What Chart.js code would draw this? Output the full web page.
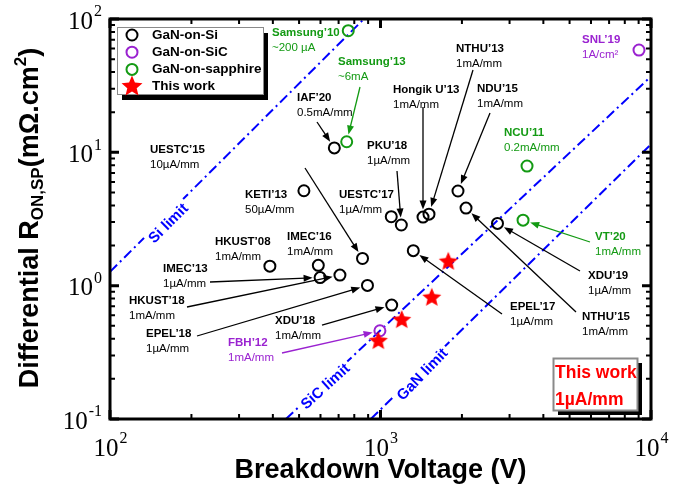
<!DOCTYPE html>
<html>
<head>
<meta charset="utf-8">
<script src="https://cdn.jsdelivr.net/npm/chart.js@4.4.0/dist/chart.umd.min.js"></script>
<style>
  html, body { margin: 0; padding: 0; background: #fff; }
  #wrap { width: 686px; height: 488px; }
</style>
</head>
<body>
<div id="wrap"><canvas id="chart" width="686" height="488"></canvas></div>
<script>
// Breakdown voltage (V) vs differential Ron,sp (mOhm.cm2)
const siNames   = ['IAF’20', 'KETI’13', 'UESTC’15', 'HKUST’08', 'IMEC’16', 'IMEC’13', 'HKUST’18', 'EPEL’18', 'XDU’18',
                   'UESTC’17', 'PKU’18', 'Hongik U’13', 'NTHU’13', 'NDU’15', 'NTHU’15', 'XDU’19', 'EPEL’17'];
const siVoltage = [675, 521, 858, 390, 589, 598, 708, 895, 1100, 1096, 1194, 1436, 1511, 1934, 2071, 2707, 1322];
const siRon     = [10.8, 5.15, 1.60, 1.40, 1.42, 1.15, 1.20, 1.005, 0.715, 3.29, 2.85, 3.27, 3.44, 5.13, 3.82, 2.93, 1.83];

const sicNames   = ['FBH’12', 'SNL’19'];
const sicVoltage = [995, 9029];
const sicRon     = [0.459, 58.5];

const sapNames   = ['Samsung’10', 'Samsung’13', 'NCU’11', 'VT’20'];
const sapVoltage = [760, 750, 3481, 3365];
const sapRon     = [81.7, 12.0, 7.89, 3.10];

const workVoltage = [982, 1198, 1547, 1781];
const workRon     = [0.384, 0.552, 0.811, 1.51];

// material limits (two end points each)
const siLimitV  = [100, 868];    const siLimitR  = [1.27, 100];
const sicLimitV = [447, 10000];  const sicLimitR = [0.1, 37.1];
const ganLimitV = [921, 10000];  const ganLimitR = [0.1, 11.5];

const xTicks = [100, 1000, 10000];   const xTickExp = ['2', '3', '4'];
const yTicks = [0.1, 1, 10, 100];    const yTickExp = ['-1', '0', '1', '2'];

const GREEN = '#139a13';
const PURPLE = '#9a22d0';
const BLUE = '#0000ff';
const RED = '#ff0000';
const SANS = '"Liberation Sans", Arial, sans-serif';
const SERIF = '"Liberation Serif", "Times New Roman", serif';

// labels + arrows (text position in px, arrow points at a named data point)
const notes = [
    { lines: ['Samsung’10', '~200 µA'], x: 272, y: 33, color: GREEN },
    { lines: ['Samsung’13', '~6mA'], x: 338, y: 62, color: GREEN, from: [360, 87], to: 'Samsung’13' },
    { lines: ['IAF’20', '0.5mA/mm'], x: 297, y: 98, from: [317, 122], to: 'IAF’20' },
    { lines: ['UESTC’15', '10µA/mm'], x: 150, y: 150, from: [305, 168], to: 'UESTC’15' },
    { lines: ['KETI’13', '50µA/mm'], x: 245, y: 195 },
    { lines: ['HKUST’08', '1mA/mm'], x: 215, y: 242 },
    { lines: ['IMEC’16', '1mA/mm'], x: 287, y: 237 },
    { lines: ['IMEC’13', '1µA/mm'], x: 163, y: 269, from: [210, 282], to: 'IMEC’13' },
    { lines: ['HKUST’18', '1mA/mm'], x: 129, y: 301, from: [187, 307], to: 'HKUST’18' },
    { lines: ['EPEL’18', '1µA/mm'], x: 146, y: 334, from: [197, 336], to: 'EPEL’18' },
    { lines: ['XDU’18', '1mA/mm'], x: 275, y: 321, from: [322, 325], to: 'XDU’18' },
    { lines: ['FBH’12', '1mA/mm'], x: 228, y: 343, color: PURPLE, from: [282, 353], to: 'FBH’12' },
    { lines: ['PKU’18', '1µA/mm'], x: 367, y: 146, from: [397, 171], to: 'PKU’18' },
    { lines: ['UESTC’17', '1µA/mm'], x: 339, y: 195 },
    { lines: ['Hongik U’13', '1mA/mm'], x: 393, y: 90, from: [423, 107], to: 'Hongik U’13' },
    { lines: ['NTHU’13', '1mA/mm'], x: 456, y: 49, from: [473, 70], to: 'NTHU’13' },
    { lines: ['NDU’15', '1mA/mm'], x: 477, y: 89, from: [490, 113], to: 'NDU’15' },
    { lines: ['NCU’11', '0.2mA/mm'], x: 504, y: 133, color: GREEN },
    { lines: ['SNL’19', '1A/cm²'], x: 582, y: 40, color: PURPLE },
    { lines: ['VT’20', '1mA/mm'], x: 595, y: 237, color: GREEN, from: [590, 242], to: 'VT’20' },
    { lines: ['XDU’19', '1µA/mm'], x: 588, y: 276, from: [580, 271], to: 'XDU’19' },
    { lines: ['NTHU’15', '1mA/mm'], x: 582, y: 317, from: [576, 312], to: 'NTHU’15' },
    { lines: ['EPEL’17', '1µA/mm'], x: 510, y: 307, from: [502, 314], to: 'EPEL’17' }
];

const limitNotes = [
    { text: 'Si limit', x: 168, y: 223, angle: -45 },
    { text: 'SiC limit', x: 325, y: 386, angle: -42 },
    { text: 'GaN limit', x: 422, y: 374, angle: -46 }
];

const pts = (xs, ys) => xs.map((v, i) => ({ x: v, y: ys[i] }));

function makeStar(r, color) {
    const size = Math.ceil(r * 2 + 2);
    const c = document.createElement('canvas');
    c.width = size; c.height = size;
    drawStar(c.getContext('2d'), size / 2, size / 2, r, color);
    return c;
}

function drawStar(g, cx, cy, r, color) {
    g.fillStyle = color;
    g.beginPath();
    for (let k = 0; k < 10; k++) {
        const rad = k % 2 === 0 ? r : r * 0.45;
        const a = -Math.PI / 2 + k * Math.PI / 5;
        const px = cx + rad * Math.cos(a), py = cy + rad * Math.sin(a);
        if (k === 0) g.moveTo(px, py); else g.lineTo(px, py);
    }
    g.closePath();
    g.fill();
}

function arrow(ctx, x1, y1, x2, y2, color) {
    const ang = Math.atan2(y2 - y1, x2 - x1);
    const L = 9, W = 3.5;
    const c = Math.cos(ang), s = Math.sin(ang);
    ctx.strokeStyle = color; ctx.fillStyle = color; ctx.lineWidth = 1.3;
    ctx.beginPath();
    ctx.moveTo(x1, y1);
    ctx.lineTo(x2 - L * 0.8 * c, y2 - L * 0.8 * s);
    ctx.stroke();
    ctx.beginPath();
    ctx.moveTo(x2, y2);
    ctx.lineTo(x2 - L * c + W * s, y2 - L * s - W * c);
    ctx.lineTo(x2 - L * c - W * s, y2 - L * s + W * c);
    ctx.closePath();
    ctx.fill();
}

// name -> data point, for the arrows
const named = {};
[[siNames, siVoltage, siRon], [sicNames, sicVoltage, sicRon], [sapNames, sapVoltage, sapRon]].forEach(([n, v, r]) => {
    n.forEach((name, i) => { named[name] = { x: v[i], y: r[i] }; });
});

const starImg = makeStar(10, RED);

const decorations = {
    id: 'decorations',
    afterDatasetsDraw(chart) {
        const { ctx, chartArea: a, scales: { x, y } } = chart;
        ctx.save();

        // limit line names, on a white patch that breaks the dashed line
        ctx.font = 'bold 15px ' + SANS;
        ctx.textAlign = 'center';
        ctx.textBaseline = 'middle';
        limitNotes.forEach(n => {
            ctx.save();
            ctx.translate(n.x, n.y);
            ctx.rotate(n.angle * Math.PI / 180);
            const w = ctx.measureText(n.text).width;
            ctx.fillStyle = '#fff';
            ctx.fillRect(-w / 2 - 3, -8, w + 6, 16);
            ctx.fillStyle = BLUE;
            ctx.fillText(n.text, 0, 1);
            ctx.restore();
        });

        // frame + inward ticks on all four sides
        ctx.strokeStyle = '#000';
        const xMinor = [], yMinor = [];
        xTicks.slice(0, -1).forEach(d => { for (let k = 2; k <= 9; k++) xMinor.push(d * k); });
        yTicks.slice(0, -1).forEach(d => { for (let k = 2; k <= 9; k++) yMinor.push(d * k); });
        const tickX = (v, len, w) => {
            const px = x.getPixelForValue(v);
            ctx.lineWidth = w;
            ctx.beginPath();
            ctx.moveTo(px, a.bottom); ctx.lineTo(px, a.bottom - len);
            ctx.moveTo(px, a.top); ctx.lineTo(px, a.top + len);
            ctx.stroke();
        };
        const tickY = (v, len, w) => {
            const py = y.getPixelForValue(v);
            ctx.lineWidth = w;
            ctx.beginPath();
            ctx.moveTo(a.left, py); ctx.lineTo(a.left + len, py);
            ctx.moveTo(a.right, py); ctx.lineTo(a.right - len, py);
            ctx.stroke();
        };
        xMinor.forEach(v => tickX(v, 5, 2));
        yMinor.forEach(v => tickY(v, 5, 2));
        xTicks.forEach(v => tickX(v, 9, 3));
        yTicks.forEach(v => tickY(v, 9, 3));
        ctx.lineWidth = 3;
        ctx.strokeRect(a.left, a.top, a.right - a.left, a.bottom - a.top);

        // tick labels 10^n
        ctx.fillStyle = '#000';
        ctx.textBaseline = 'middle';
        ctx.textAlign = 'left';
        const power = (px, py, exp, align) => {
            ctx.font = '25px ' + SERIF;
            const wb = ctx.measureText('10').width;
            ctx.font = '16px ' + SERIF;
            const we = ctx.measureText(exp).width;
            const x0 = align === 'center' ? px - (wb + we) / 2 : px - wb - we;
            ctx.font = '25px ' + SERIF;
            ctx.fillText('10', x0, py);
            ctx.font = '16px ' + SERIF;
            ctx.fillText(exp, x0 + wb + 1, py - 10);
        };
        xTicks.forEach((v, i) => power(x.getPixelForValue(v), 449, xTickExp[i], 'center'));
        yTicks.forEach((v, i) => power(101, y.getPixelForValue(v) + 3, yTickExp[i], 'right'));

        // axis titles
        ctx.font = 'bold 27px ' + SANS;
        ctx.textAlign = 'center';
        ctx.fillText('Breakdown Voltage (V)', (a.left + a.right) / 2, 471);

        const parts = [
            { t: 'Differential R', f: 27, dy: 0 },
            { t: 'ON,SP', f: 17, dy: 7 },
            { t: '(mΩ.cm', f: 27, dy: 0 },
            { t: '2', f: 17, dy: -10 },
            { t: ')', f: 27, dy: 0 }
        ];
        let total = 0;
        parts.forEach(p => { ctx.font = 'bold ' + p.f + 'px ' + SANS; p.w = ctx.measureText(p.t).width; total += p.w; });
        ctx.save();
        ctx.translate(31, 218);
        ctx.rotate(-Math.PI / 2);
        ctx.textAlign = 'left';
        let cx = -total / 2;
        parts.forEach(p => {
            ctx.font = 'bold ' + p.f + 'px ' + SANS;
            ctx.fillText(p.t, cx, p.dy);
            cx += p.w;
        });
        ctx.restore();

        // point labels and arrows
        ctx.textAlign = 'left';
        notes.forEach(n => {
            const col = n.color || '#000';
            ctx.fillStyle = col;
            ctx.font = 'bold 11.5px ' + SANS;
            ctx.fillText(n.lines[0], n.x, n.y);
            ctx.font = '11.5px ' + SANS;
            ctx.fillText(n.lines[1], n.x, n.y + 15);
            if (n.to) {
                const p = named[n.to];
                const tx = x.getPixelForValue(p.x), ty = y.getPixelForValue(p.y);
                const [fx, fy] = n.from;
                const d = Math.hypot(tx - fx, ty - fy);
                const gap = 7.5;
                arrow(ctx, fx, fy, tx - (tx - fx) / d * gap, ty - (ty - fy) / d * gap, col);
            }
        });

        // legend box
        const lx = 117, ly = 27, lw = 146, lh = 67;
        ctx.fillStyle = '#000';
        ctx.fillRect(lx + 5, ly + 6, lw, lh);
        ctx.fillStyle = '#fff';
        ctx.fillRect(lx, ly, lw, lh);
        ctx.strokeStyle = '#8a8a8a';
        ctx.lineWidth = 1;
        ctx.strokeRect(lx + 0.5, ly + 0.5, lw, lh);
        const entries = chart.data.datasets.filter(ds => ds.inLegend);
        entries.forEach((ds, i) => {
            const ry = ly + 8 + i * 17.2;
            const mx = lx + 15;
            if (ds.pointStyle === starImg) {
                drawStar(ctx, mx, ry, 11, RED);
            } else {
                ctx.strokeStyle = ds.borderColor;
                ctx.lineWidth = 2;
                ctx.beginPath();
                ctx.arc(mx, ry, 5.5, 0, Math.PI * 2);
                ctx.stroke();
            }
            ctx.fillStyle = '#000';
            ctx.font = 'bold 13.5px ' + SANS;
            ctx.fillText(ds.label, lx + 35, ry);
        });

        // "This work" box
        const bx = 553, by = 358, bw = 84, bh = 52;
        ctx.fillStyle = '#000';
        ctx.fillRect(bx + 5, by + 5, bw, bh);
        ctx.fillStyle = '#fff';
        ctx.fillRect(bx, by, bw, bh);
        ctx.strokeStyle = '#8a8a8a';
        ctx.strokeRect(bx + 0.5, by + 0.5, bw, bh);
        ctx.fillStyle = RED;
        ctx.font = 'bold 17.5px ' + SANS;
        ctx.fillText('This work', bx + 2, by + 15);
        ctx.fillText('1µA/mm', bx + 2, by + 42);

        ctx.restore();
    }
};

const circle = (label, data, color) => ({
    label, data, inLegend: true,
    pointStyle: 'circle', pointRadius: 5.5, pointBorderWidth: 2,
    borderColor: color, pointBorderColor: color, backgroundColor: 'rgba(0,0,0,0)',
    order: 1
});
const limit = (label, v, r) => ({
    label, data: pts(v, r), showLine: true,
    borderColor: BLUE, borderWidth: 2, borderDash: [10, 4, 2, 4],
    pointRadius: 0, fill: false, order: 5
});

new Chart(document.getElementById('chart'), {
    type: 'scatter',
    data: {
        datasets: [
            circle('GaN-on-Si', pts(siVoltage, siRon), '#000'),
            circle('GaN-on-SiC', pts(sicVoltage, sicRon), PURPLE),
            circle('GaN-on-sapphire', pts(sapVoltage, sapRon), GREEN),
            { label: 'This work', data: pts(workVoltage, workRon), inLegend: true,
              pointStyle: starImg, borderColor: RED, backgroundColor: RED, order: 0 },
            limit('Si limit', siLimitV, siLimitR),
            limit('SiC limit', sicLimitV, sicLimitR),
            limit('GaN limit', ganLimitV, ganLimitR)
        ]
    },
    options: {
        responsive: false,
        animation: false,
        events: [],
        layout: { padding: { left: 110, right: 35, top: 19, bottom: 69 } },
        scales: {
            x: { type: 'logarithmic', min: 100, max: 10000, display: false },
            y: { type: 'logarithmic', min: 0.1, max: 100, display: false }
        },
        plugins: { legend: { display: false }, tooltip: { enabled: false } }
    },
    plugins: [decorations]
});
</script>
</body>
</html>
